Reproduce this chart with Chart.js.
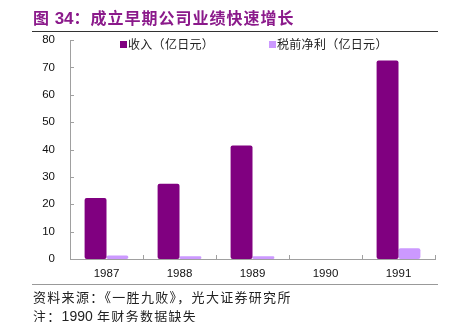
<!DOCTYPE html>
<html>
<head>
<meta charset="utf-8">
<title>成立早期公司业绩快速增长</title>
<script src="https://cdn.jsdelivr.net/npm/chart.js@4.4.1/dist/chart.umd.min.js"></script>
<style>
  body { margin: 0; background: #fff; }
  #wrap { position: relative; width: 449px; height: 322px; overflow: hidden; }
  #myChart { position: absolute; left: 0; top: 0; }
  .title { position: absolute; left: 33px; top: 5px; font: bold 16px "Noto Sans CJK SC", sans-serif; letter-spacing: 1px; color: #8b1a8b; white-space: nowrap; }
  .title b { font-family: "Liberation Sans", Arial, sans-serif; font-size: 17px; letter-spacing: 0; }
  .rule { position: absolute; left: 32px; width: 406px; height: 1px; }
  .note { position: absolute; left: 33px; font: 13px "Noto Sans CJK SC", sans-serif; letter-spacing: 1.3px; color: #222; white-space: nowrap; }
  .note span { font-family: "Liberation Sans", Arial, sans-serif; font-size: 14px; letter-spacing: 0; }
  .leg { position: absolute; top: 35px; font: 12px "Noto Sans CJK SC", sans-serif; letter-spacing: 0.3px; color: #222; white-space: nowrap; }
  .leg i { display: inline-block; width: 7px; height: 7px; margin-right: 1px; vertical-align: 1px; }
</style>
</head>
<body>
<div id="wrap">
  <canvas id="myChart" width="449" height="322"></canvas>
  <div class="title">图 <b>34</b>：成立早期公司业绩快速增长</div>
  <div class="rule" style="top:31px;background:#333;"></div>
  <div class="leg" style="left:120px;"><i style="background:#800080"></i>收入（亿日元）</div>
  <div class="leg" style="left:269px;"><i style="background:#cc99ff"></i>税前净利（亿日元）</div>
  <div class="rule" style="top:284px;background:#999;"></div>
  <div class="note" style="top:287px;">资料来源：《一胜九败》，光大证券研究所</div>
  <div class="note" style="top:306px;">注：<span>1990</span> 年财务数据缺失</div>
</div>
<script>
const years = ['1987', '1988', '1989', '1990', '1991'];
const revenue = [22.3, 27.5, 41.5, null, 72.5];
const pretaxProfit = [1.3, 1.0, 1.0, null, 3.9];
const yTicks = [0, 10, 20, 30, 40, 50, 60, 70, 80];

// small tick marks pointing into the plot, like the original
const innerTicks = {
  id: 'innerTicks',
  afterDraw(chart) {
    const ctx = chart.ctx;
    const x = chart.scales.x, y = chart.scales.y;
    ctx.save();
    ctx.strokeStyle = '#a0a0a0';
    ctx.lineWidth = 1;
    ctx.beginPath();
    yTicks.forEach(v => {
      const py = Math.round(y.getPixelForValue(v)) + 0.5;
      ctx.moveTo(x.left, py);
      ctx.lineTo(x.left + 4, py);
    });
    for (let i = 0; i <= years.length; i++) {
      const px = Math.round(x.getPixelForValue(i - 0.5)) + 0.5;
      ctx.moveTo(px, y.bottom);
      ctx.lineTo(px, y.bottom - 4);
    }
    ctx.stroke();
    ctx.restore();
  }
};

const ctx = document.getElementById('myChart').getContext('2d');
new Chart(ctx, {
  type: 'bar',
  data: {
    labels: years,
    datasets: [{
      label: '收入（亿日元）',
      data: revenue,
      backgroundColor: '#800080',
      borderRadius: 2,
      borderSkipped: false,
      categoryPercentage: 0.6,
      barPercentage: 1.0
    }, {
      label: '税前净利（亿日元）',
      data: pretaxProfit,
      backgroundColor: '#cc99ff',
      borderRadius: 2,
      borderSkipped: false,
      categoryPercentage: 0.6,
      barPercentage: 1.0
    }]
  },
  options: {
    responsive: false,
    animation: false,
    layout: { padding: { left: 0, right: 14, top: 40, bottom: 0 } },
    plugins: {
      tooltip: { enabled: false },
      legend: { display: false }
    },
    scales: {
      x: {
        grid: { display: false, drawTicks: false },
        border: { color: '#a0a0a0' },
        ticks: { color: '#111', padding: 8, font: { family: '"Liberation Sans", Arial, sans-serif', size: 11.5 } },
        afterFit(scale) { scale.height = 63; }
      },
      y: {
        min: 0,
        max: 80,
        grid: { display: false, drawTicks: false },
        border: { color: '#a0a0a0' },
        ticks: { stepSize: 10, color: '#111', padding: 15, font: { family: '"Liberation Sans", Arial, sans-serif', size: 11.5 } },
        afterFit(scale) { scale.width = 70; }
      }
    }
  },
  plugins: [innerTicks]
});
</script>
</body>
</html>
